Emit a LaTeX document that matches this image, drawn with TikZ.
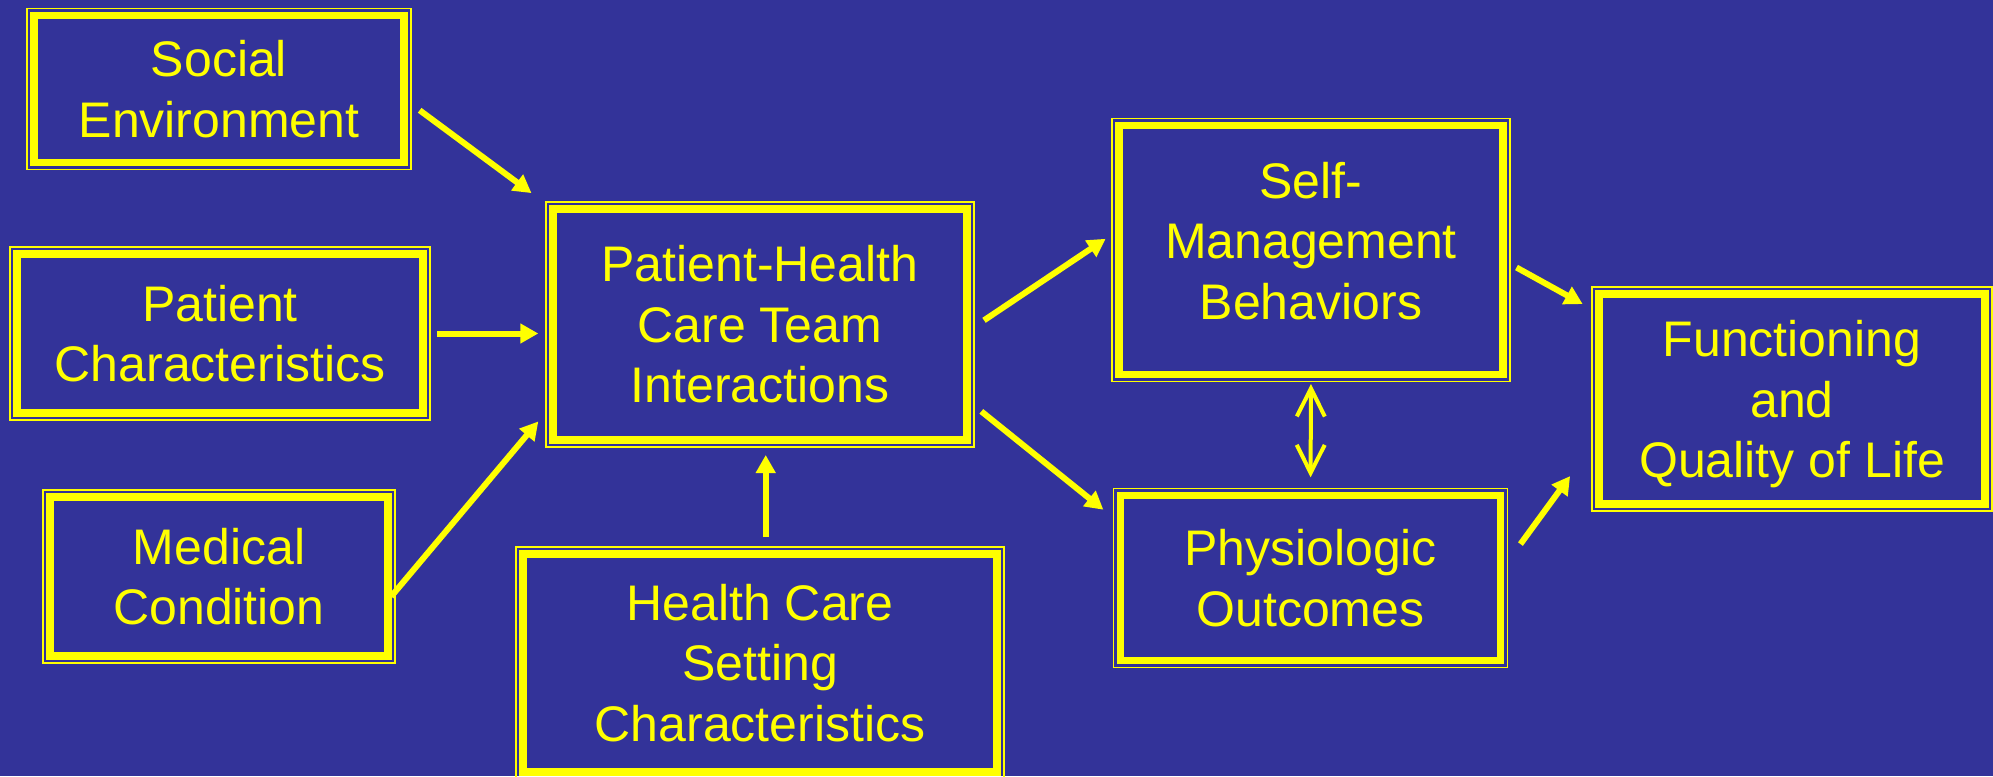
\documentclass[tikz,border=0pt]{standalone}
\usepackage{fontspec}
\setmainfont{Liberation Sans}
\usepackage{tikz}
\usetikzlibrary{calc,arrows.meta,positioning}
\definecolor{slide}{RGB}{51,51,153}
\definecolor{ylw}{RGB}{255,255,0}

\begin{document}
\begin{tikzpicture}[x=1pt,y=-1pt]

\tikzset{ybox/.style={draw=ylw,line width=7.5pt,inner sep=0pt,outer sep=0pt,align=center,text=ylw,font=\fontsize{50}{60.5}\selectfont},
frame/.style={draw=ylw,line width=1.5pt},
arr/.style={ylw,line width=6pt,-{Triangle[width=19pt,length=18pt]}},
dblarr/.style={ylw,line width=4pt,{Straight Barb[width=28pt,length=28pt]}-{Straight Barb[width=28pt,length=28pt]}}}

% Background
\fill[slide] (0,0) rectangle (1993,776);
\useasboundingbox (0,0) rectangle (1993,776);

% Nodes
\node[ybox,minimum width=370pt,minimum height=147pt] (soc) at (219,89) {Social\\Environment};
\node[ybox,minimum width=406pt,minimum height=159pt] (pat) at (220,333.5) {Patient\\Characteristics};
\node[ybox,minimum width=338pt,minimum height=159pt] (med) at (219,576.5) {Medical\\Condition};
\node[ybox,minimum width=414pt,minimum height=231pt] (phc) at (760,324.5) {Patient-Health\\Care Team\\Interactions};
\node[ybox,minimum width=474pt,minimum height=218pt] (hcs) at (760,663) {Health Care\\Setting\\Characteristics};
\node[ybox,minimum width=384pt,minimum height=249pt,text depth=19pt] (self) at (1311,250) {Self-\\Management\\Behaviors};
\node[ybox,minimum width=380pt,minimum height=165pt] (phys) at (1310.5,578) {Physiologic\\Outcomes};
\node[ybox,minimum width=386pt,minimum height=210pt,text depth=0pt] (func) at (1792,399) {Functioning\\and\\Quality of Life};

% Thin outer frames
\foreach \n in {soc,pat,med,phc,hcs,self,phys,func} \draw[frame] ($(\n.north west)+(-7,-7)$) rectangle ($(\n.south east)+(7,7)$);

% Arrows
\draw[arr,shorten <=19.5pt,shorten >=26.7pt] (soc.-3) -- (phc.north west);
\draw[arr,shorten <=14pt,shorten >=14.7pt] (pat.east) -- (pat.east -| phc.west);
\draw[arr,shorten <=5pt,shorten >=22.8pt] (med.-8.3) -- (phc.201.5);
\draw[arr,shorten <=17pt,shorten >=15pt] (hcs.87) -- (hcs.87 |- phc.south);
\draw[arr,shorten <=20.5pt,shorten >=16.1pt] (phc.-2.4) -- (self.174.1);
\draw[arr,shorten <=18.4pt,shorten >=22pt] (phc.-20.5) -- (phys.164.25);
\draw[arr,shorten <=15.4pt,shorten >=18.6pt] (self.-3.5) -- (func.156.5);
\draw[arr,shorten <=33.8pt,shorten >=49pt] (phys.2.8) -- (func.191);
\draw[dblarr,shorten <=9.5pt,shorten >=18.2pt] (self.south) -- (phys.north);

\end{tikzpicture}
\end{document}
